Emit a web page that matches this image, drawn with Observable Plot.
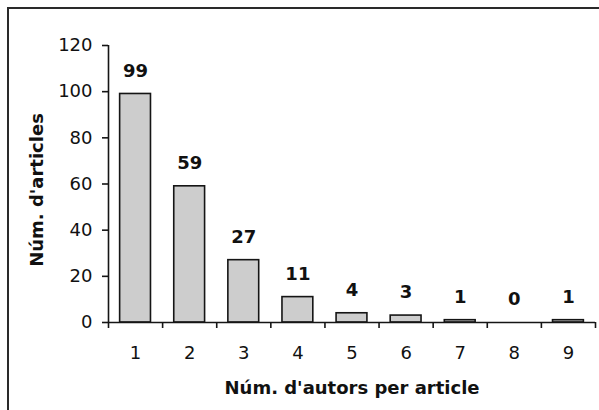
<!DOCTYPE html>
<html>
<head>
<meta charset="utf-8">
<script src="https://cdn.jsdelivr.net/npm/d3@7"></script>
<script src="https://cdn.jsdelivr.net/npm/@observablehq/plot@0.6"></script>
<style>
  html, body { margin: 0; padding: 0; background: #fff; }
  #wrap { position: relative; width: 599px; height: 410px; overflow: hidden; }
  #frame { position: absolute; left: 7px; top: 7px; width: 620px; height: 440px;
           border-left: 2px solid #2a2a2a; border-top: 2px solid #2a2a2a; pointer-events: none; }
  #chart { position: absolute; left: 0; top: 0; }
</style>
</head>
<body>
<div id="wrap"><div id="chart"></div><div id="frame"></div></div>
<script>
const authors = [1, 2, 3, 4, 5, 6, 7, 8, 9];
const articles = [99, 59, 27, 11, 4, 3, 1, 0, 1];
const yTicks = [0, 20, 40, 60, 80, 100, 120];
const xTitle = "Núm. d'autors per article";
const yTitle = "Núm. d'articles";

const data = authors.map((k, i) => ({k, v: articles[i]}));
const half = 0.285;
const boundaries = d3.range(authors.length + 1).map(i => authors[0] - 0.5 + i);

const font = "'DejaVu Sans', Verdana, sans-serif";

const chart = Plot.plot({
  width: 599,
  height: 410,
  marginLeft: 108,
  marginRight: 4,
  marginTop: 45,
  marginBottom: 88,
  style: {fontFamily: font, fontSize: "18px", color: "#111", background: "transparent"},
  x: {type: "linear", domain: [0.5, 9.5]},
  y: {domain: [0, 120]},
  marks: [
    Plot.rectY(data, {
      x1: d => d.k - half, x2: d => d.k + half, y1: 0, y2: "v",
      fill: "#cdcdcd", stroke: "#151515", strokeWidth: 1.6
    }),
    Plot.ruleX([0.5], {y1: 0, y2: 120, stroke: "#151515", strokeWidth: 1.6}),
    Plot.ruleY([0], {x1: 0.5, x2: 9.5, stroke: "#151515", strokeWidth: 1.6}),
    Plot.axisY({ticks: yTicks, tickSize: 6, tickPadding: 10, label: null,
      stroke: "#151515", strokeWidth: 1.6, fontSize: 18}),
    Plot.axisX({ticks: boundaries, tickSize: 6, tickFormat: () => "", label: null,
      stroke: "#151515", strokeWidth: 1.6}),
    Plot.axisX({ticks: authors, tickSize: 0, tickPadding: 24, label: null, fontSize: 18}),
    Plot.text(data, {x: "k", y: "v", text: d => String(d.v), dy: -23,
      fontWeight: "bold", fontSize: 18, fill: "#111"}),
    Plot.text([xTitle], {frameAnchor: "bottom", dy: 71, textAnchor: "middle",
      fontWeight: "bold", fontSize: 18, fill: "#111"}),
    Plot.text([yTitle], {frameAnchor: "left", rotate: -90, dx: -71, dy: 6, textAnchor: "middle",
      fontWeight: "bold", fontSize: 18, fill: "#111"})
  ]
});
document.getElementById("chart").appendChild(chart);
</script>
</body>
</html>
